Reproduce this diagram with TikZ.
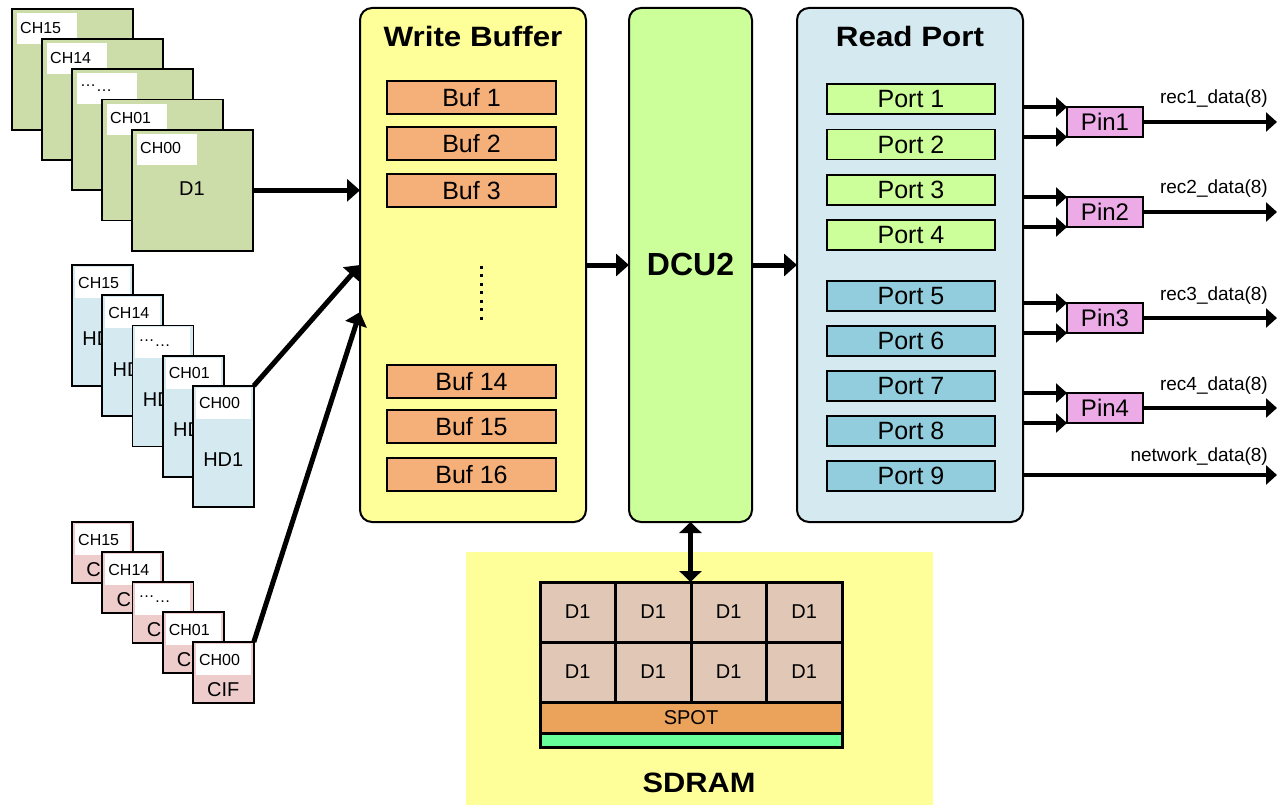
\documentclass[tikz,border=0pt]{standalone}
\usepackage{fontspec}
\setmainfont{Liberation Sans}
\usetikzlibrary{arrows.meta}
\definecolor{stackgreen}{RGB}{204,221,170}
\definecolor{stackblue}{RGB}{213,234,240}
\definecolor{stackpink}{RGB}{238,204,204}
\definecolor{wbyellow}{RGB}{255,255,153}
\definecolor{buforange}{RGB}{245,176,122}
\definecolor{dcugreen}{RGB}{204,255,153}
\definecolor{rpblue}{RGB}{213,234,240}
\definecolor{portblue}{RGB}{146,205,222}
\definecolor{pinviolet}{RGB}{236,170,230}
\definecolor{cellbrown}{RGB}{225,199,181}
\definecolor{spotorange}{RGB}{235,162,90}
\definecolor{bargreen}{RGB}{102,255,153}
\newcommand{\myfs}[1]{\fontsize{#1}{#1}\selectfont}
\begin{document}
\begin{tikzpicture}[x=1pt,y=-1pt,
  box/.style={draw=black, line width=2pt, anchor=north west, inner sep=0pt, outer sep=0pt},
  stackbox/.style={box, line width=1.8pt},
  lblbox/.style={fill=white, anchor=north west, inner sep=0pt, outer sep=0pt},
  lbltext/.style={anchor=west, inner sep=0pt, font=\myfs{16}},
  bigtext/.style={inner sep=0pt, font=\myfs{20}},
  panel/.style={box, rounded corners=12pt},
  bufbox/.style={box, line width=1.5pt, fill=buforange, minimum width=169pt, minimum height=33pt, font=\myfs{25}},
  portbox/.style={box, line width=1.5pt, minimum width=168pt, minimum height=30pt, font=\myfs{25}},
  pinbox/.style={box, line width=1.5pt, fill=pinviolet, minimum width=76pt, minimum height=30pt, font=\myfs{24}},
  title/.style={anchor=base, inner sep=0pt, font=\bfseries\myfs{28}},
  outlbl/.style={anchor=base east, inner sep=0pt, font=\myfs{19}},
  cell/.style={box, line width=3pt, fill=cellbrown, minimum width=75.5pt, minimum height=60pt, font=\myfs{20}},
  bigarrow/.style={line width=5pt, -{Triangle[length=13pt,width=22pt]}},
  pinarrow/.style={line width=4pt, -{Triangle[length=11pt,width=19pt]}},
  dblarrow/.style={line width=5pt, {Triangle[length=11pt,width=22pt]}-{Triangle[length=11pt,width=22pt]}}
]
\useasboundingbox (0,0) rectangle (1277,805);

% ---------- D1 stack (green) ----------
\foreach \i/\t in {0/CH15,1/CH14,2/{\raisebox{0.3em}{…}…},3/CH01,4/CH00} {
  \node[stackbox, fill=stackgreen, minimum width=121pt, minimum height=121pt] (g\i) at ({12+30*\i},{9+30.2*\i}) {};
  \node[lblbox, minimum width=60pt, minimum height=31pt] (gl\i) at ({17+30*\i},{13+30.2*\i}) {};
  \node[lbltext] (gt\i) at ({20+30*\i},{27.5+30.2*\i}) {\t};
}
\node[bigtext] (d1txt) at (192,189) {D1};

% ---------- HD1 stack (blue) ----------
\foreach \i/\t in {0/CH15,1/CH14,2/{\raisebox{0.3em}{…}…},3/CH01,4/CH00} {
  \node[stackbox, fill=stackblue, minimum width=61pt, minimum height=121pt] (b\i) at ({72+30.2*\i},{265+30.2*\i}) {};
  \node[bigtext] (bh\i) at ({102.5+30.2*\i},{339+30.2*\i}) {HD1};
  \node[lblbox, minimum width=55pt, minimum height=31pt] (bl\i) at ({75+30.2*\i},{267+30.2*\i}) {};
  \node[lbltext] (bt\i) at ({78+30.2*\i},{282.5+30.2*\i}) {\t};
}

% ---------- CIF stack (pink) ----------
\foreach \i/\t in {0/CH15,1/CH14,2/{\raisebox{0.3em}{…}…},3/CH01,4/CH00} {
  \node[stackbox, fill=stackpink, minimum width=61pt, minimum height=61pt] (p\i) at ({72+30.2*\i},{522+30*\i}) {};
  \node[bigtext] (ph\i) at ({102.5+30.2*\i},{570+30*\i}) {CIF};
  \node[lblbox, minimum width=55pt, minimum height=31pt] (pl\i) at ({75+30.2*\i},{524+30*\i}) {};
  \node[lbltext] (pt\i) at ({78+30.2*\i},{539.5+30*\i}) {\t};
}

% ---------- Write Buffer ----------
\node[panel, fill=wbyellow, minimum width=226pt, minimum height=514pt] (wb) at (360,8) {};
\node[title] (wbt) at (473,47) {\scalebox{1.12}[1]{Write Buffer}};
\foreach \n/\y in {1/81,2/127,3/174,14/365,15/410,16/458} {
  \node[bufbox] (buf\n) at (387,\y) {Buf \n};
}
\draw[line width=3pt, dash pattern=on 3pt off 5.5pt] (481,265.5) -- (481,320);

% ---------- DCU2 ----------
\node[panel, fill=dcugreen, minimum width=123pt, minimum height=514pt] (dcu) at (629,8) {};
\node[title, font=\bfseries\myfs{32}] (dcut) at (690.5,275) {DCU2};

% ---------- Read Port ----------
\node[panel, fill=rpblue, minimum width=226pt, minimum height=514pt] (rp) at (797,8) {};
\node[title] (rpt) at (910,47) {\scalebox{1.12}[1]{Read Port}};
\foreach \n/\y in {1/84,2/129.5,3/175,4/220} {
  \node[portbox, fill=dcugreen] (port\n) at (827,\y) {Port \n};
}
\foreach \n/\y in {5/281,6/326,7/371,8/416,9/461} {
  \node[portbox, fill=portblue] (port\n) at (827,\y) {Port \n};
}

% ---------- Pins ----------
\coordinate (outend) at (1277,0);
\foreach \n/\y in {1/107,2/197,3/303,4/393} {
  \node[pinbox] (pin\n) at (1067,\y) {Pin\n};
  \draw[pinarrow] (rp.east |- pin\n.north west) -- (pin\n.north west);
  \draw[pinarrow] (rp.east |- pin\n.south west) -- (pin\n.south west);
  \draw[pinarrow] (pin\n.east) -- (pin\n.east -| outend);
  \node[outlbl] (rec\n) at (1268,{\y-3}) {rec\n\_data(8)};
}
\coordinate (netend) at (1277,475);
\draw[pinarrow] (rp.east |- netend) -- (netend);
\node[outlbl] (netl) at (1268,461) {network\_data(8)};

% ---------- SDRAM ----------
\node[anchor=north west, fill=wbyellow, minimum width=467pt, minimum height=253pt, inner sep=0pt, outer sep=0pt] (sdram) at (466,552) {};
\foreach \r in {0,1} {
  \foreach \c in {0,1,2,3} {
    \node[cell] (c\r\c) at ({540+75.5*\c},{582+60*\r}) {D1};
  }
}
\node[cell, fill=spotorange, minimum width=302pt, minimum height=31pt] (spot) at (540,702) {SPOT};
\node[cell, fill=bargreen, minimum width=302pt, minimum height=14pt] (bar) at (540,733) {};
\node[title] (sdt) at (699,792) {\scalebox{1.1}[1]{SDRAM}};

% ---------- Connectors ----------
\coordinate (wbin2) at (360,265);
\coordinate (wbin3) at (360,312);
\draw[bigarrow] (g4.east) -- (g4.east -| wb.west);
\draw[bigarrow] (b4.north east) -- (wbin2);
\draw[bigarrow] (p4.north east) -- (wbin3);
\draw[bigarrow] (wb.east |- wbin2) -- (dcu.west |- wbin2);
\draw[bigarrow] (dcu.east |- wbin2) -- (rp.west |- wbin2);
\draw[dblarrow] (dcu.south) -- (dcu.south |- c02.north west);
\end{tikzpicture}
\end{document}
